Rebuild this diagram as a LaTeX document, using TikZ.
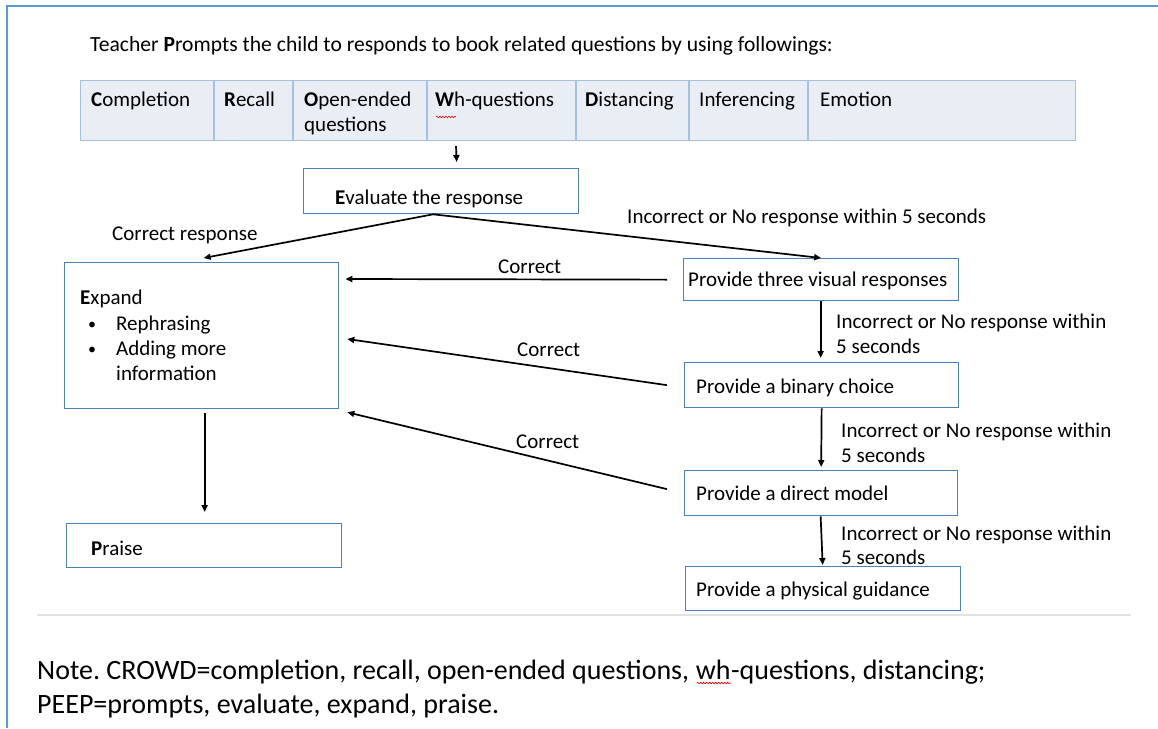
\documentclass[tikz,border=0pt]{standalone}
\usepackage{fontspec}
\setmainfont{Carlito}
\usetikzlibrary{arrows.meta,calc,decorations.pathmorphing}
\definecolor{frameblue}{HTML}{5B9BD5}
\definecolor{boxblue}{HTML}{4F81B5}
\definecolor{tblline}{HTML}{A4C2E0}
\definecolor{tblfill}{HTML}{E9EEF5}
\definecolor{sepgray}{HTML}{E2E2E2}
\frenchspacing
\begin{document}
\begin{tikzpicture}[x=1pt,y=-1pt,
  box/.style={draw=boxblue, line width=1.3pt, anchor=north west, inner sep=0pt},
  txt/.style={anchor=base west, inner sep=0pt, font=\fontsize{21}{25}\selectfont},
  notetxt/.style={anchor=base west, inner sep=0pt, font=\fontsize{28}{34}\selectfont},
  arr/.style={-{Triangle[length=7pt,width=6pt]}, line width=1.7pt},
  squig/.style={draw=red, line width=0.6pt, decorate, decoration={snake, segment length=3pt, amplitude=0.8pt}}]
\useasboundingbox (0,0) rectangle (1158,728);
\fill[white] (0,0) rectangle (1158,728);
% frame
\draw[frameblue, line width=2pt] (7,728) -- (7,6) -- (1158,6);
% title
\node[txt, font=\fontsize{21.6}{25}\selectfont] (title) at (90,51) {Teacher \textbf{P}rompts the child to responds to book related questions by using followings:};
% table
\node[draw=tblline, fill=tblfill, line width=1.2pt, anchor=north west, minimum width=995pt, minimum height=60pt, inner sep=0pt] (tbl) at (80,80) {};
\foreach \xx in {214,293,427,576,689,808} \draw[tblline, line width=1.2pt] (\xx,80) -- (\xx,140);
\node[txt] (c1) at (91,106) {\textbf{C}ompletion};
\node[txt] (c2) at (224,106) {\textbf{R}ecall};
\node[txt] (c3) at (304,106) {\textbf{O}pen-ended};
\node[txt] (c3b) at (304,131) {questions};
\node[txt] (c4) at (435,106) {\textbf{W}h-questions};
\draw[squig] (436,117) -- (456,117);
\node[txt] (c5) at (585,106) {\textbf{D}istancing};
\node[txt] (c6) at (699,106) {Inferencing};
\node[txt] (c7) at (820,106) {Emotion};
% boxes
\node[box, minimum width=275pt, minimum height=45pt] (eval) at (303,168) {};
\node[txt] (evalt) at (335,204) {\textbf{E}valuate the response};
\node[box, minimum width=274pt, minimum height=146pt] (expand) at (64,262) {};
\node[txt] (expt) at (80,304) {\textbf{E}xpand};
\node[txt, font=\fontsize{16}{25}\selectfont] (b1) at (88,329) {•};
\node[txt] (exp1) at (116,330) {Rephrasing};
\node[txt, font=\fontsize{16}{25}\selectfont] (b2) at (88,354) {•};
\node[txt] (exp2) at (116,355) {Adding more};
\node[txt] (exp3) at (116,380) {information};
\node[box, minimum width=275pt, minimum height=44pt] (praise) at (66,523) {};
\node[txt] (praiset) at (91,555) {\textbf{P}raise};
\node[box, minimum width=275pt, minimum height=42pt] (visual) at (683,258) {};
\node[txt] (visualt) at (688,286) {Provide three visual responses};
\node[box, minimum width=274pt, minimum height=45pt] (binary) at (684,362) {};
\node[txt] (binaryt) at (696,393) {Provide a binary choice};
\node[box, minimum width=273pt, minimum height=45pt] (direct) at (684,470) {};
\node[txt] (directt) at (696,500) {Provide a direct model};
\node[box, minimum width=275pt, minimum height=44pt] (physical) at (685,566) {};
\node[txt] (physicalt) at (696,596) {Provide a physical guidance};
% arrows
\draw[arr] ($(tbl.south west)+(376,5)$) -- ($(eval.north)+(15.5,-6)$);
\draw[arr] ($(eval.south)+(-8,0)$) -- ($(expand.north)+(2,-4)$);
\draw[arr] ($(eval.south)+(-8,0)$) -- (visual.north);
\node[txt] (lcr) at (112,240) {Correct response};
\node[txt] (linc) at (627,223) {Incorrect or No response within 5 seconds};
\draw[arr] ($(visual.west)+(-16,0)$) -- ($(expand.north east)+(6,17)$);
\node[txt] (lc1) at (498,273) {Correct};
\draw[arr] ($(binary.west)+(-17,0)$) -- ($(expand.north east)+(8,77)$);
\node[txt] (lc2) at (517,356) {Correct};
\draw[arr] ($(direct.west)+(-17,-4)$) -- ($(expand.south east)+(8,3)$);
\node[txt] (lc3) at (516,448) {Correct};
\draw[arr] ($(visual.south)+(-0.5,0)$) -- ($(binary.north)+(-1,-4)$);
\node[txt] (li1) at (836,328) {Incorrect or No response within};
\node[txt] (li1b) at (836,353) {5 seconds};
\draw[arr] ($(binary.south)+(0,0)$) -- ($(direct.north)+(0,-3)$);
\node[txt] (li2) at (841,437) {Incorrect or No response within};
\node[txt] (li2b) at (841,462) {5 seconds};
\draw[arr] ($(direct.south)+(-0.5,0)$) -- ($(physical.north)+(-0.5,-1)$);
\node[txt] (li3) at (841,540) {Incorrect or No response within};
\node[txt] (li3b) at (841,564) {5 seconds};
\draw[arr] ($(expand.south)+(3,4)$) -- ($(praise.north)+(0.5,-11)$);
% separator
\draw[sepgray, line width=2pt] (37,615) -- (1131,615);
% note
\node[notetxt] (note1a) at (37,679) {Note. CROWD=completion, recall, open-ended questions,};
\node[notetxt] (note1b) at ($(note1a.base east)+(6.3,0)$) {wh};
\node[notetxt] (note1c) at (note1b.base east) {-questions, distancing;};
\draw[squig] ($(note1b.base west)+(1,4)$) -- ($(note1b.base east)+(0,4)$);
\node[notetxt] (note2) at (37,713) {PEEP=prompts, evaluate, expand, praise.};
\end{tikzpicture}
\end{document}
